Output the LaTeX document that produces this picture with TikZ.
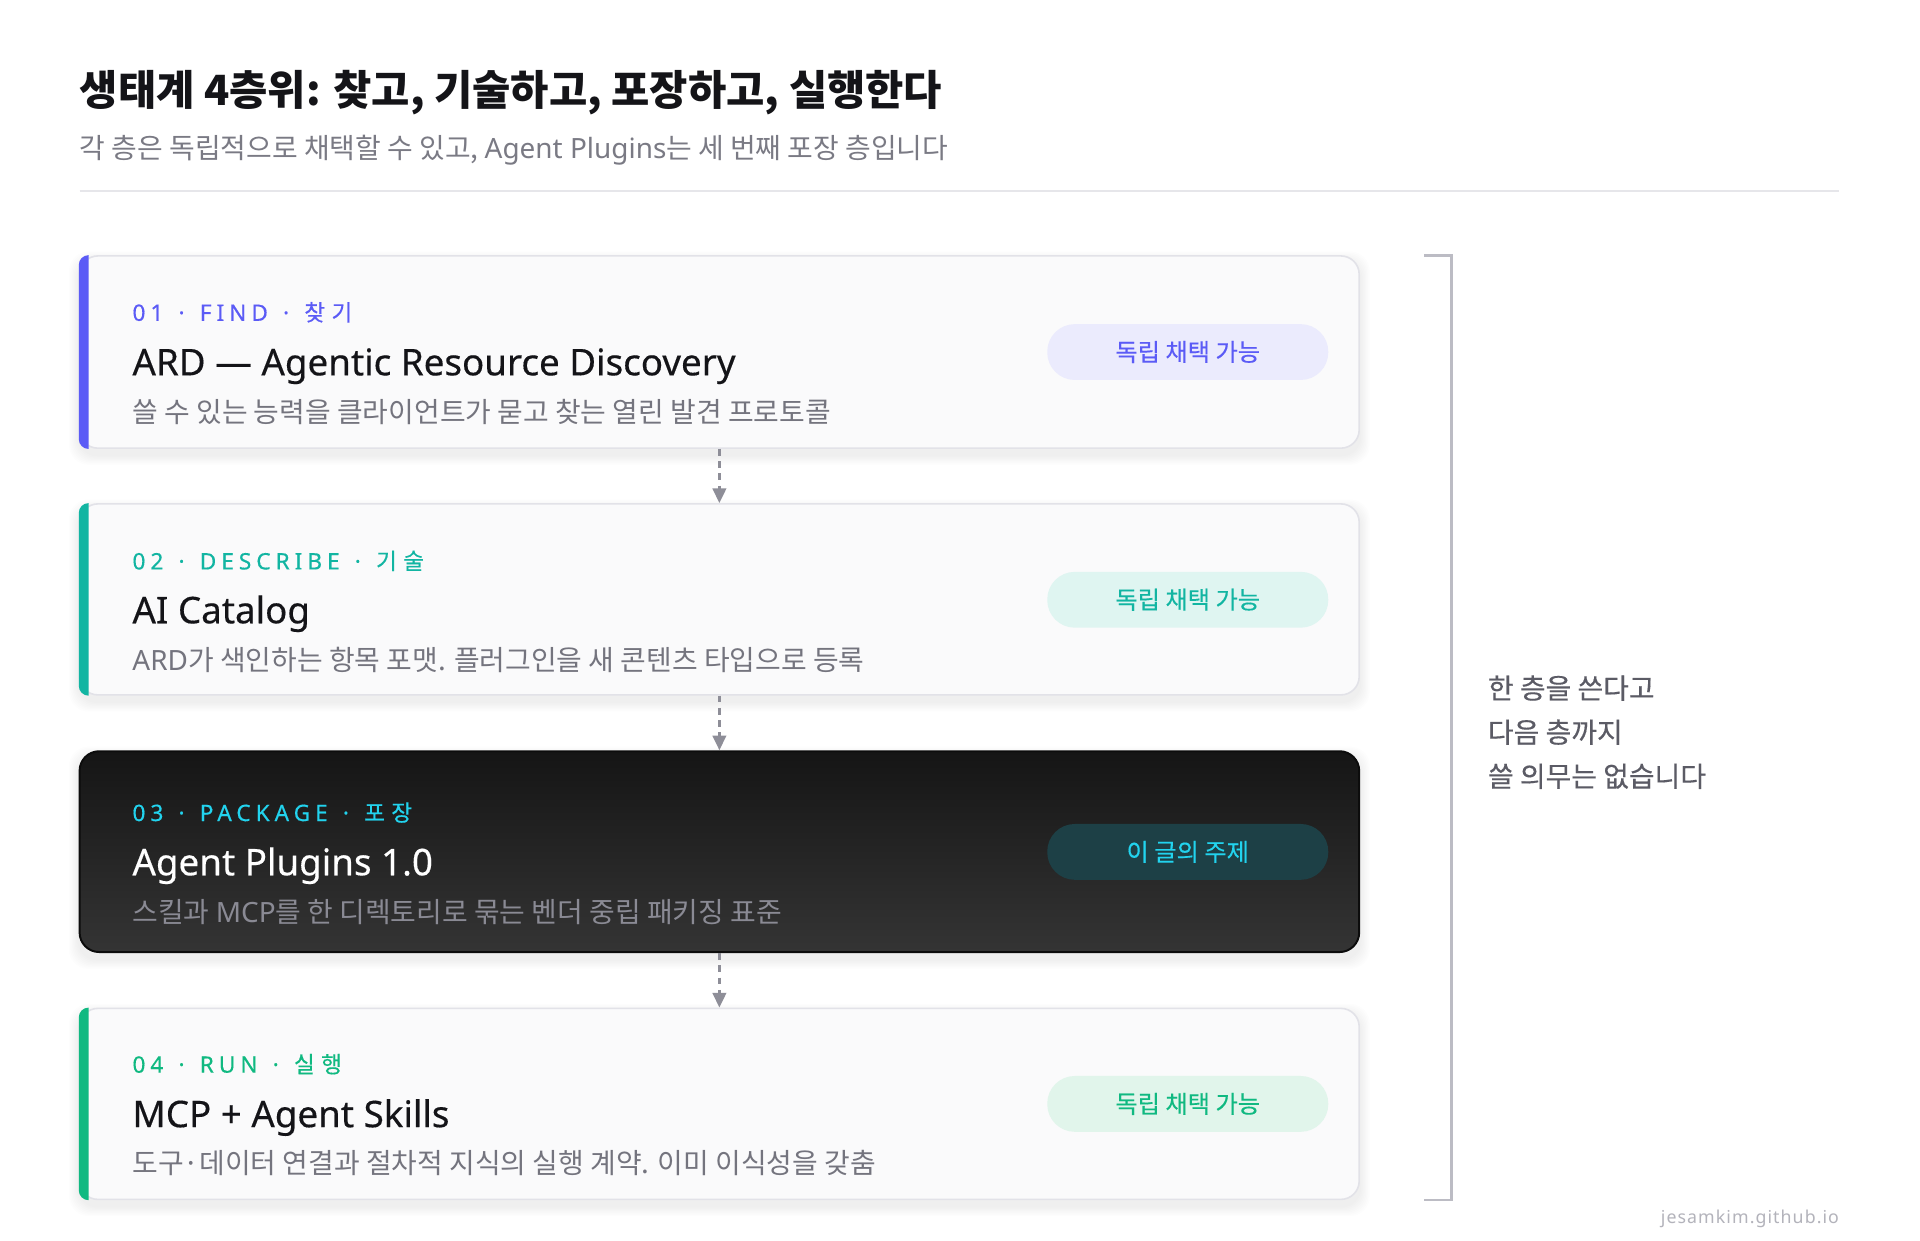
\documentclass[tikz,border=0pt]{standalone}
\usepackage{fontspec}
\setmainfont{Noto Sans CJK KR}
\newfontfamily\la{Noto Sans}
\newfontfamily\lam[FakeBold=0.35]{Noto Sans}
\newfontfamily\krm[FakeBold=0.35]{Noto Sans CJK KR}
\newfontfamily\lblla[LetterSpace=22,FakeBold=0.4]{Noto Sans}
\newfontfamily\lblkr[LetterSpace=28,FakeBold=0.4]{Noto Sans CJK KR}
\newfontfamily\markfont[LetterSpace=6]{Noto Sans}
\usetikzlibrary{arrows.meta,backgrounds}
\definecolor{ink}{HTML}{141418}
\definecolor{subc}{HTML}{7A7A84}
\definecolor{rulec}{HTML}{E6E6EA}
\definecolor{cardfill}{HTML}{FAFAFB}
\definecolor{cardline}{HTML}{E2E2E8}
\definecolor{descc}{HTML}{74747E}
\definecolor{indigo}{HTML}{5B5BF6}
\definecolor{indigobg}{HTML}{EBEBFD}
\definecolor{teal}{HTML}{12B5A2}
\definecolor{tealbg}{HTML}{DFF5F1}
\definecolor{cyanc}{HTML}{22D3EE}
\definecolor{cyanbg}{HTML}{1D4046}
\definecolor{greenc}{HTML}{10B981}
\definecolor{greenbg}{HTML}{E1F5EB}
\definecolor{darkdesc}{HTML}{8A8A94}
\definecolor{darktop}{HTML}{151515}
\definecolor{darkbot}{HTML}{343434}
\definecolor{darkline}{HTML}{0C0C0C}
\definecolor{arrowc}{HTML}{8E8E98}
\definecolor{bracketc}{HTML}{BCBCC4}
\definecolor{sidec}{HTML}{5B5B65}
\definecolor{markc}{HTML}{B3B3BB}
\newcommand\dotsep{\kern3.5pt{} · \kern3.5pt{}}
\tikzset{
 card/.style={rectangle, rounded corners=15pt, minimum width=1045pt, inner sep=0pt, draw=cardline, line width=1.3pt, fill=cardfill},
 darkcard/.style={rectangle, rounded corners=16pt, minimum width=1045pt, inner sep=0pt, draw=darkline, line width=1.6pt, top color=darktop, bottom color=darkbot},
 lbl/.style={anchor=base west, inner sep=0pt, font=\fontsize{18.5}{22}\selectfont},
 ctitle/.style={anchor=base west, inner sep=0pt, font=\fontsize{30}{36}\selectfont\lam},
 cdesc/.style={anchor=base west, inner sep=0pt, font=\fontsize{22.8}{28}\selectfont, text=descc},
 badge/.style={rectangle, rounded corners=22.5pt, minimum width=229.5pt, minimum height=45.6pt, inner sep=0pt, font=\fontsize{19.8}{24}\selectfont\krm},
 flow/.style={draw=arrowc, line width=2.2pt, dash pattern=on 5.5pt off 4.5pt, -{Triangle[length=12pt,width=11pt]}},
 bracket/.style={draw=bracketc, line width=2.4pt},
 side/.style={anchor=base west, inner sep=0pt, font=\fontsize{22.8}{28}\selectfont\krm, text=sidec},
}
\begin{document}
\begin{tikzpicture}[x=1pt,y=-1pt]
\useasboundingbox (0,0) rectangle (1568,1012.7);

% header
\node[anchor=base west, inner sep=0pt, font=\bfseries\fontsize{34}{40}\selectfont, text=ink] (title) at (65,86.5) {생태계 4층위: 찾고, 기술하고, 포장하고, 실행한다};
\node[anchor=base west, inner sep=0pt, font=\fontsize{22.8}{28}\selectfont, text=subc] (subtitle) at (65,129.7) {각 층은 독립적으로 채택할 수 있고, {\la Agent Plugins}는 세 번째 포장 층입니다};
\draw[rulec, line width=2pt] (65,156) -- (1502,156);

% cards
\node[card, minimum height=157pt] (c1) at (587.5,287.5) {};
\node[card, minimum height=156pt] (c2) at (587.5,489.5) {};
\node[darkcard, minimum height=164pt] (c3) at (587.5,695.5) {};
\node[card, minimum height=156pt] (c4) at (587.5,901.5) {};

% accent bars
\begin{scope}
 \clip ([xshift=-3pt]c1.north west) rectangle ([xshift=8pt]c1.south west);
 \fill[indigo, rounded corners=8pt] (c1.north west) rectangle ([xshift=30pt]c1.south west);
\end{scope}
\begin{scope}
 \clip ([xshift=-3pt]c2.north west) rectangle ([xshift=8pt]c2.south west);
 \fill[teal, rounded corners=8pt] (c2.north west) rectangle ([xshift=30pt]c2.south west);
\end{scope}
\begin{scope}
 \clip ([xshift=-3pt]c4.north west) rectangle ([xshift=8pt]c4.south west);
 \fill[greenc, rounded corners=8pt] (c4.north west) rectangle ([xshift=30pt]c4.south west);
\end{scope}

% card 1
\node[lbl, text=indigo] (l1) at (108,262) {{\lblla 01\dotsep FIND\dotsep}{\lblkr 찾기}};
\node[ctitle, text=ink] (t1) at (108,306.5) {ARD — Agentic Resource Discovery};
\node[cdesc] (d1) at (108,344.7) {쓸 수 있는 능력을 클라이언트가 묻고 찾는 열린 발견 프로토콜};
\node[badge, fill=indigobg, text=indigo] (b1) at (970,287.5) {독립 채택 가능};

% card 2
\node[lbl, text=teal] (l2) at (108,465) {{\lblla 02\dotsep DESCRIBE\dotsep}{\lblkr 기술}};
\node[ctitle, text=ink] (t2) at (108,509) {AI Catalog};
\node[cdesc] (d2) at (108,547.7) {{\la ARD}가 색인하는 항목 포맷. 플러그인을 새 콘텐츠 타입으로 등록};
\node[badge, fill=tealbg, text=teal] (b2) at (970,489.8) {독립 채택 가능};

% card 3
\node[lbl, text=cyanc] (l3) at (108,670.5) {{\lblla 03\dotsep PACKAGE\dotsep}{\lblkr 포장}};
\node[ctitle, text=white] (t3) at (108,714.8) {Agent Plugins 1.0};
\node[cdesc, text=darkdesc] (d3) at (108,753.2) {스킬과 {\la MCP}를 한 디렉토리로 묶는 벤더 중립 패키징 표준};
\node[badge, fill=cyanbg, text=cyanc] (b3) at (970,695.7) {이 글의 주제};

% card 4
\node[lbl, text=greenc] (l4) at (108,876) {{\lblla 04\dotsep RUN\dotsep}{\lblkr 실행}};
\node[ctitle, text=ink] (t4) at (108,920.5) {MCP + Agent Skills};
\node[cdesc] (d4) at (108,958.2) {도구·데이터 연결과 절차적 지식의 실행 계약. 이미 이식성을 갖춤};
\node[badge, fill=greenbg, text=greenc] (b4) at (970,901.5) {독립 채택 가능};

% connectors
\draw[flow] (c1.south) -- (c2.north);
\draw[flow] (c2.south) -- (c3.north);
\draw[flow] (c3.south) -- (c4.north);

% bracket
\coordinate (bt0) at (1163,209);
\coordinate (bt1) at (1185,209);
\coordinate (bb1) at (1185,980);
\coordinate (bb0) at (1163,980);
\draw[bracket] (bt0) -- (bt1) -- (bb1) -- (bb0);

% side note
\node[side] (s1) at (1215,570.5) {한 층을 쓴다고};
\node[side] (s2) at (1215,606.5) {다음 층까지};
\node[side] (s3) at (1215,642.5) {쓸 의무는 없습니다};

% watermark
\node[anchor=base east, inner sep=0pt, font=\fontsize{14.5}{18}\selectfont\markfont, text=markc] (mark) at (1502,999.5) {jesamkim.github.io};

% background and shadows
\begin{scope}[on background layer]
 \fill[white] (0,0) rectangle (1568,1012.7);
 \foreach \n in {c1,c2,c3,c4}{
  \foreach \s in {1,...,8}{
   \fill[black, fill opacity=0.007, rounded corners=16pt] ([xshift=-\s pt, yshift={(\s-5)*1pt}]\n.north west) rectangle ([xshift=\s pt, yshift={(-\s-5)*1pt}]\n.south east);
  }}
\end{scope}
\end{tikzpicture}
\end{document}
